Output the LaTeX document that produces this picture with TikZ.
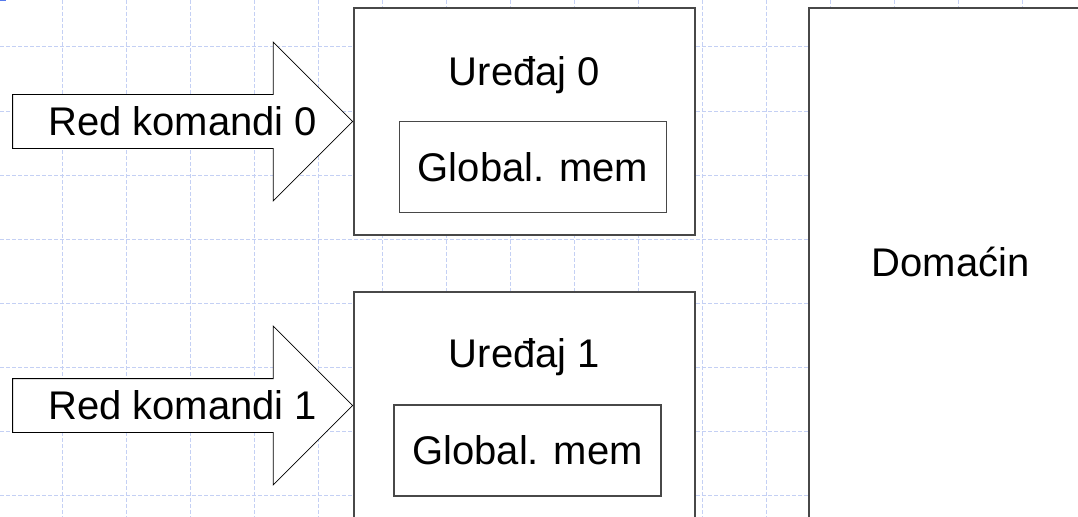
\documentclass[tikz,border=0pt]{standalone}
\usepackage{fontspec}
\setmainfont{Liberation Sans}
\usetikzlibrary{positioning,calc,shapes.arrows}

\definecolor{gridblue}{RGB}{196,208,244}
\definecolor{edgegray}{RGB}{72,72,72}
\definecolor{cornerblue}{RGB}{86,122,236}

\begin{document}
\begin{tikzpicture}[
  x=0.75pt, y=-0.75pt,
  font=\fontsize{30}{36}\selectfont,
  gridline/.style={gridblue, line width=0.75pt, dash pattern=on 3pt off 1.5pt},
  device/.style={draw=edgegray, line width=1.2pt, fill=white, inner sep=0pt, minimum width=255.75pt, minimum height=170.25pt},
  memory/.style={draw=edgegray, line width=1.1pt, fill=white, inner sep=0pt, minimum width=200.5pt, minimum height=68pt},
  queue/.style={single arrow, draw=black, line width=0.6pt, fill=white, inner xsep=0pt, inner ysep=0pt,
    text height=30pt, text depth=9.75pt, single arrow head extend=39.4pt, minimum height=255pt},
]
  \useasboundingbox (0,0) rectangle (1078,517);
  \clip (0,0) rectangle (1078,517);

  % background grid
  \foreach \gx in {62,126,...,1022} \draw[gridline] (\gx,0) -- (\gx,517);
  \foreach \gy in {47,111,...,495} \draw[gridline] (0,\gy) -- (1078,\gy);
  \fill[cornerblue] (0,0) rectangle (6,1.5);

  % devices
  \node[device] (dev0) at (524.5,121.5) {};
  \node[below=58.5pt of dev0.north, anchor=base] (dev0title) {Uređaj 0};
  \node[memory] (mem0) at (533,167) {Global. mem};

  \node[device] (dev1) at (524.5,405.5) {};
  \node[below=57pt of dev1.north, anchor=base] (dev1title) {Uređaj 1};
  \node[memory] (mem1) at (527.5,450.5) {Global. mem};

  % command queues, label centred on the whole arrow
  \node[queue, anchor=tip] (queue0) at (dev0.west) {};
  \node (queue0label) at ($(queue0.tail)!.5!(queue0.tip)$) {Red komandi 0};
  \node[queue, anchor=tip] (queue1) at (dev1.west) {};
  \node (queue1label) at ($(queue1.tail)!.5!(queue1.tip)$) {Red komandi 1};

  % host
  \node[draw=edgegray, line width=1.2pt, fill=white, minimum width=212.25pt, minimum height=399pt] (host) at (950.5,274) {};
  \node (hostname) at (950.5,262) {Domaćin};
\end{tikzpicture}
\end{document}
